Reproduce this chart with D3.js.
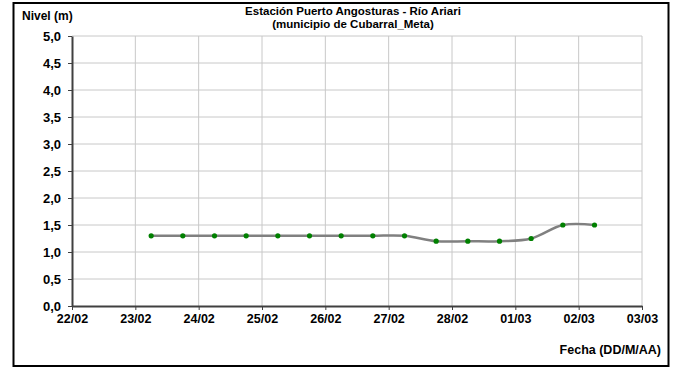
<!DOCTYPE html>
<html>
<head>
<meta charset="utf-8">
<script src="https://cdn.jsdelivr.net/npm/d3@7"></script>
<style>
    body { margin: 0; background: #fff; }
    text { font-family: "Liberation Sans", Arial, sans-serif; font-weight: bold; fill: #000; }
</style>
</head>
<body>
<div id="chart"></div>
<script>
// fechas de lectura (dos por dia, 06:00 y 18:00)
var fechas = [
    "2021-02-23 06:00", "2021-02-23 18:00",
    "2021-02-24 06:00", "2021-02-24 18:00",
    "2021-02-25 06:00", "2021-02-25 18:00",
    "2021-02-26 06:00", "2021-02-26 18:00",
    "2021-02-27 06:00", "2021-02-27 18:00",
    "2021-02-28 06:00", "2021-02-28 18:00",
    "2021-03-01 06:00", "2021-03-01 18:00",
    "2021-03-02 06:00"
];
var niveles = [1.3, 1.3, 1.3, 1.3, 1.3, 1.3, 1.3, 1.3, 1.3, 1.2, 1.2, 1.2, 1.25, 1.5, 1.5];

var xDominio = ["2021-02-22 00:00", "2021-03-03 00:00"];
var yDominio = [0, 5];
var tituloLineas = ["Estación Puerto Angosturas - Río Ariari", "(municipio de Cubarral_Meta)"];

var W = 676, H = 368;
var margin = { top: 36, right: 34, bottom: 62, left: 72 },
    width = W - margin.left - margin.right,
    height = H - margin.top - margin.bottom;

var parseFecha = d3.timeParse("%Y-%m-%d %H:%M");
var formatDia = d3.timeFormat("%d/%m");
var formatNivel = function(v) { return d3.format(".1f")(v).replace(".", ","); };

var data = fechas.map(function(f, i) {
    return { date: parseFecha(f), nivel: niveles[i] };
});

var svg = d3.select("#chart").append("svg")
    .attr("width", W)
    .attr("height", H);

// marco exterior
svg.append("rect")
    .attr("x", 13.5).attr("y", 3)
    .attr("width", 655).attr("height", 363)
    .attr("fill", "none")
    .attr("stroke", "#000")
    .attr("stroke-width", 2);

var g = svg.append("g")
    .attr("transform", "translate(" + margin.left + "," + margin.top + ")");

var x = d3.scaleTime()
    .domain(xDominio.map(parseFecha))
    .range([0, width]);
var y = d3.scaleLinear()
    .domain(yDominio)
    .range([height, 0]);

var dias = d3.timeDay.range(x.domain()[0], d3.timeDay.offset(x.domain()[1], 1));
var yTicks = d3.range(0, 5.01, 0.5);

// rejilla
g.append("g").selectAll("line")
    .data(yTicks.slice(1))
    .enter().append("line")
    .attr("x1", 0).attr("x2", width)
    .attr("y1", function(d) { return y(d); })
    .attr("y2", function(d) { return y(d); })
    .attr("stroke", "#c8c8c8")
    .attr("stroke-width", 1);

g.append("g").selectAll("line")
    .data(dias.slice(1))
    .enter().append("line")
    .attr("x1", function(d) { return x(d); })
    .attr("x2", function(d) { return x(d); })
    .attr("y1", 0).attr("y2", height)
    .attr("stroke", "#c8c8c8")
    .attr("stroke-width", 1);

// ejes
var xAxis = d3.axisBottom(x)
    .tickValues(dias)
    .tickFormat(formatDia)
    .tickSize(4)
    .tickSizeOuter(0)
    .tickPadding(4);

var yAxis = d3.axisLeft(y)
    .tickValues(yTicks)
    .tickFormat(formatNivel)
    .tickSize(4)
    .tickSizeOuter(0)
    .tickPadding(7);

var gx = g.append("g")
    .attr("transform", "translate(0," + height + ")")
    .call(xAxis);
var gy = g.append("g").call(yAxis);

[gx, gy].forEach(function(ax) {
    ax.select(".domain").attr("stroke", "#404040").attr("stroke-width", 2);
    ax.selectAll(".tick line").attr("stroke", "#404040").attr("stroke-width", 1);
    ax.selectAll(".tick text")
        .style("font-family", "'Liberation Sans', Arial, sans-serif")
        .style("font-weight", "bold")
        .attr("fill", "#000");
});
gx.selectAll(".tick text").style("font-size", "12.5px");
gy.selectAll(".tick text").style("font-size", "13px");

// serie
var line = d3.line()
    .curve(d3.curveCardinal.tension(0))
    .x(function(d) { return x(d.date); })
    .y(function(d) { return y(d.nivel); });

g.append("path")
    .datum(data)
    .attr("fill", "none")
    .attr("stroke", "#808080")
    .attr("stroke-width", 2.5)
    .attr("d", line);

g.selectAll(".punto")
    .data(data)
    .enter().append("circle")
    .attr("class", "punto")
    .attr("cx", function(d) { return x(d.date); })
    .attr("cy", function(d) { return y(d.nivel); })
    .attr("r", 2.6)
    .attr("fill", "#008000");

// textos
svg.append("text")
    .attr("x", 22).attr("y", 20)
    .style("font-size", "12px")
    .text("Nivel (m)");

svg.selectAll(".titulo")
    .data(tituloLineas)
    .enter().append("text")
    .attr("class", "titulo")
    .attr("x", 353)
    .attr("y", function(d, i) { return 14.5 + i * 13.5; })
    .attr("text-anchor", "middle")
    .style("font-size", "11.5px")
    .text(function(d) { return d; });

svg.append("text")
    .attr("x", 661).attr("y", 354)
    .attr("text-anchor", "end")
    .style("font-size", "12.5px")
    .text("Fecha (DD/M/AA)");
</script>
</body>
</html>
